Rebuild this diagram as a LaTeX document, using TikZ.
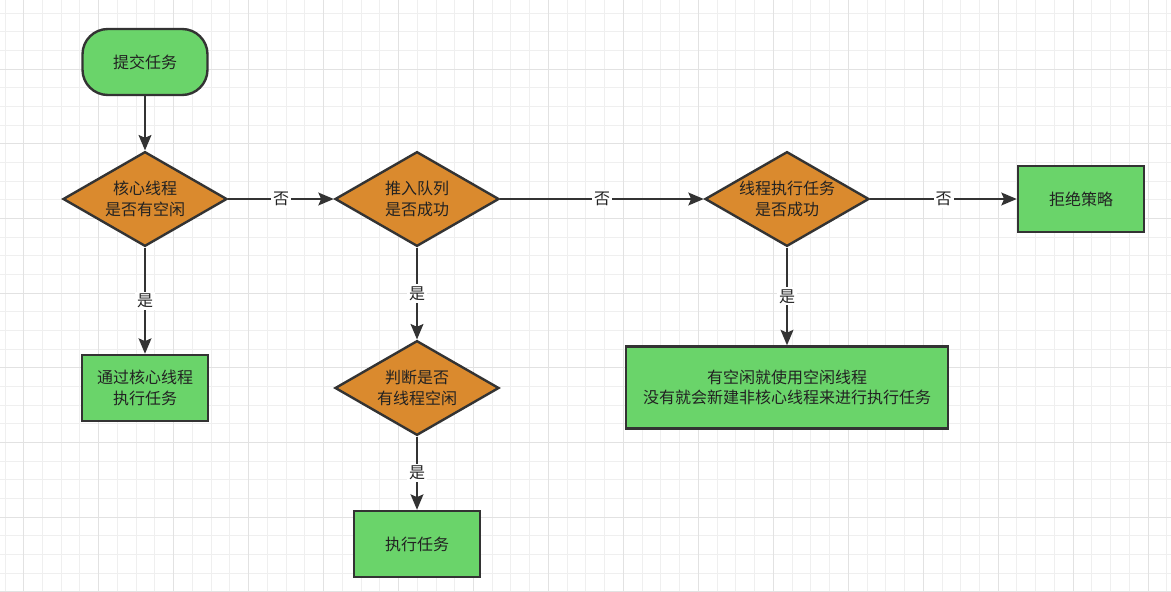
\documentclass[tikz,border=0pt]{standalone}
\usepackage{fontspec}
\setmainfont{Noto Sans CJK SC}
\usetikzlibrary{shapes.geometric,arrows.meta}
\definecolor{boxgreen}{HTML}{6AD46A}
\definecolor{diaorange}{HTML}{DA8A2E}
\definecolor{edgegray}{HTML}{333333}
\definecolor{txt}{HTML}{222222}
\definecolor{gridminor}{HTML}{EFEFEF}
\definecolor{gridmajor}{HTML}{E2E2E2}
\begin{document}
\begin{tikzpicture}[x=0.75pt,y=-0.75pt,
  base/.style={draw=edgegray, line width=1.8pt, text=txt, align=center,
    font=\fontsize{12}{15.5}\selectfont, inner sep=0pt},
  startbox/.style={base, fill=boxgreen, rounded corners=19pt,
    minimum width=93.75pt, minimum height=49.5pt},
  procbox/.style={base, fill=boxgreen, minimum width=94.5pt, minimum height=49.5pt},
  bigbox/.style={base, fill=boxgreen, minimum width=241.5pt, minimum height=61.5pt},
  decision/.style={base, fill=diaorange, diamond, shape aspect=1.75,
    minimum width=123pt, minimum height=71pt},
  conn/.style={draw=edgegray, line width=1.8pt,
    -{Stealth[length=11.5pt,width=9.5pt,inset=2pt]}},
  lbl/.style={fill=white, text=txt, inner sep=1.5pt, font=\fontsize{12}{14}\selectfont}
]
% background and grid
\fill[white] (0,0) rectangle (1171,592);
\useasboundingbox (0,0) rectangle (1171,592);
\foreach \i in {0,...,62} \draw[gridminor, line width=0.75pt] ({5+18.74*\i},0) -- ({5+18.74*\i},592);
\foreach \j in {0,...,31} \draw[gridminor, line width=0.75pt] (0,{13.3+18.66*\j}) -- (1171,{13.3+18.66*\j});
\foreach \i in {1,5,...,61} \draw[gridmajor, line width=0.75pt] ({5+18.74*\i},0) -- ({5+18.74*\i},592);
\foreach \j in {3,7,...,31} \draw[gridmajor, line width=0.75pt] (0,{13.3+18.66*\j}) -- (1171,{13.3+18.66*\j});

% nodes
\node[startbox] (start) at (145,62) {提交任务};
\node[decision] (d1) at (145,199) {核心线程\\是否有空闲};
\node[decision] (d2) at (417,199) {推入队列\\是否成功};
\node[decision] (d3) at (787,199) {线程执行任务\\是否成功};
\node[procbox] (reject) at (1081,199) {拒绝策略};
\node[procbox] (core) at (145,388) {通过核心线程\\执行任务};
\node[decision] (d4) at (417,388) {判断是否\\有线程空闲};
\node[procbox] (exec) at (417,544) {执行任务};
\node[bigbox] (big) at (787,387.5) {有空闲就使用空闲线程\\没有就会新建非核心线程来进行执行任务};

% connectors
\draw[conn] (start) -- (d1);
\draw[conn] (d1) -- node[lbl] {否} (d2);
\draw[conn] (d2) -- node[lbl] {否} (d3);
\draw[conn] (d3) -- node[lbl] {否} (reject);
\draw[conn] (d1) -- node[lbl] {是} (core);
\draw[conn] (d2) -- node[lbl] {是} (d4);
\draw[conn] (d4) -- node[lbl] {是} (exec);
\draw[conn] (d3) -- node[lbl] {是} (big);
\end{tikzpicture}
\end{document}
